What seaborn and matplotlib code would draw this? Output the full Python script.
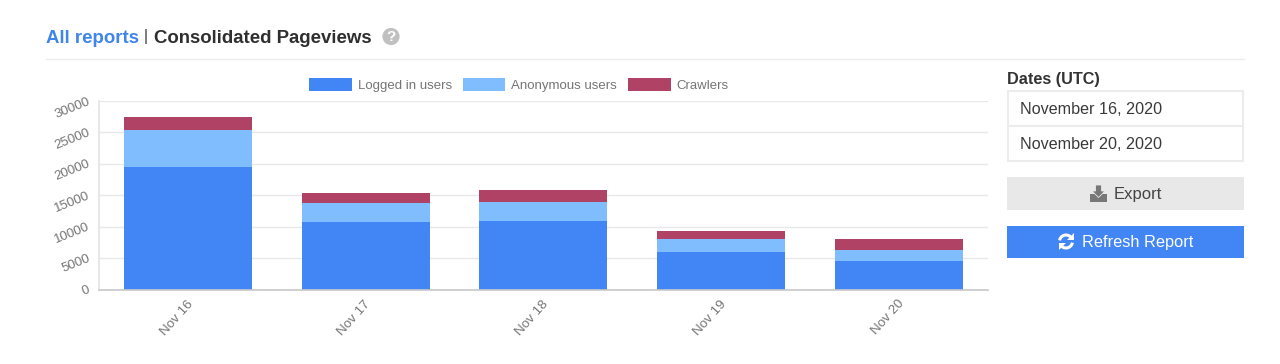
import numpy as np
import pandas as pd
import seaborn as sns
import matplotlib.pyplot as plt
from matplotlib.patches import Rectangle, Circle, Polygon, Arc
from matplotlib.transforms import ScaledTranslation

days = ['Nov 16', 'Nov 17', 'Nov 18', 'Nov 19', 'Nov 20']
logged_in = [19440, 10690, 10940, 5960, 4570]
anonymous = [5940, 3070, 2980, 2070, 1705]
crawlers = [2070, 1590, 1910, 1225, 1800]
y_ticks = [0, 5000, 10000, 15000, 20000, 25000, 30000]

BLUE = '#4285f4'
LIGHT = '#7fbdff'
RED = '#b04365'
GREY = '#757575'

sns.set_theme(style='white')
plt.rcParams['font.family'] = ['Liberation Sans', 'DejaVu Sans']

df = pd.DataFrame({'day': days, 'logged': logged_in, 'anon': anonymous, 'crawl': crawlers})

W, H = 1280, 364
fig = plt.figure(figsize=(W / 100, H / 100), dpi=100, facecolor='white')

# overlay in pixel coords for the page parts around the chart
page = fig.add_axes([0, 0, 1, 1])
page.set_xlim(0, W)
page.set_ylim(H, 0)
page.axis('off')

# chart area
left, right, top, bottom = 99, 987.5, 101, 289.5
ax = fig.add_axes([left / W, 1 - bottom / H, (right - left) / W, (bottom - top) / H])
ax.patch.set_alpha(0)

bar_kw = dict(width=0.72, saturation=1, linewidth=0, ax=ax)
sns.barplot(df, x='day', y='logged', color=BLUE, label='Logged in users', **bar_kw)
sns.barplot(df, x='day', y='anon', bottom=df['logged'], color=LIGHT, label='Anonymous users', **bar_kw)
sns.barplot(df, x='day', y='crawl', bottom=df['logged'] + df['anon'], color=RED, label='Crawlers', **bar_kw)

ax.set_xlim(-0.5, 4.5)
ax.set_ylim(0, 30000)
ax.set_xlabel('')
ax.set_ylabel('')
ax.set_yticks(y_ticks)
ax.set_yticklabels([str(t) for t in y_ticks], rotation=22, fontsize=9.6, color=GREY,
                   rotation_mode='anchor', ha='right', va='center')
ax.tick_params(axis='y', length=0, pad=7)
ax.tick_params(axis='x', length=0, pad=9)
# nudge the x labels right, they end just past the bar centre
nudge = ScaledTranslation(3 / 100, 0, fig.dpi_scale_trans)
for lab in ax.get_xticklabels():
    lab.set_rotation(48)
    lab.set_ha('right')
    lab.set_va('center')
    lab.set_rotation_mode('anchor')
    lab.set_fontsize(9.6)
    lab.set_color(GREY)
    lab.set_transform(lab.get_transform() + nudge)
ax.grid(axis='y', color='#e8e8e8', linewidth=1)
ax.set_axisbelow(True)
sns.despine(ax=ax, top=True, right=True)
ax.spines['left'].set_color('#e4e4e4')
ax.spines['bottom'].set_color('#c8c8cc')
ax.spines['bottom'].set_linewidth(1.2)

ax.legend(loc='lower center', bbox_to_anchor=(0.4725, 1.0), ncol=3, frameon=False, fontsize=9.5,
          handlelength=3.25, handleheight=1.2, handletextpad=0.45, columnspacing=0.8, labelcolor=GREY,
          borderaxespad=0.28)

# heading
page.text(46, 38.5, 'All reports', color='#3f85ea', fontsize=13.4, fontweight='bold', va='center')
page.text(144, 37, '|', color='#333333', fontsize=11.5, va='center')
page.text(154, 38.5, 'Consolidated Pageviews', color='#2f2f2f', fontsize=13.4, fontweight='bold', va='center')
page.add_patch(Circle((391, 36.5), 8.6, color='#c0c0c0', lw=0))
page.text(391, 37, '?', color='white', fontsize=11, fontweight='bold', ha='center', va='center')
page.plot([46, 1244], [58.5, 58.5], color='#ececec', lw=1)

# date panel
page.text(1007, 79.5, 'Dates (UTC)', color='#333333', fontsize=11.7, fontweight='bold', va='center')
for y0, label in [(91, 'November 16, 2020'), (126, 'November 20, 2020')]:
    page.add_patch(Rectangle((1008, y0), 235, 34.5, fc='white', ec='#ececec', lw=1.5))
    page.text(1020, y0 + 18.5, label, color='#3a3a3a', fontsize=11.6, va='center')

# export button
page.add_patch(Rectangle((1007, 177), 237, 32.5, fc='#e8e8e8', lw=0))
page.text(1114, 194, 'Export', color='#444444', fontsize=12, va='center')
page.add_patch(Rectangle((1090, 194), 17, 7.5, fc='#777777', lw=0))
page.add_patch(Polygon([[1095.5, 185], [1101.5, 185], [1101.5, 191], [1105, 191], [1098.5, 197.5], [1092, 191], [1095.5, 191]],
                       fc='#777777', ec='#e8e8e8', lw=0.6))

# refresh button
page.add_patch(Rectangle((1007, 225.5), 237, 32.5, fc=BLUE, lw=0))
page.text(1082, 242.5, 'Refresh Report', color='white', fontsize=11.8, va='center')
page.add_patch(Arc((1066, 241.5), 13, 13, theta1=190, theta2=330, color='white', lw=2.2))
page.add_patch(Arc((1066, 241.5), 13, 13, theta1=10, theta2=150, color='white', lw=2.2))
page.add_patch(Polygon([[1073.5, 233], [1073.5, 240], [1066.5, 240]], fc='white', lw=0))
page.add_patch(Polygon([[1058.5, 250], [1058.5, 243], [1065.5, 243]], fc='white', lw=0))

fig.savefig('out.png', dpi=100, facecolor='white')
